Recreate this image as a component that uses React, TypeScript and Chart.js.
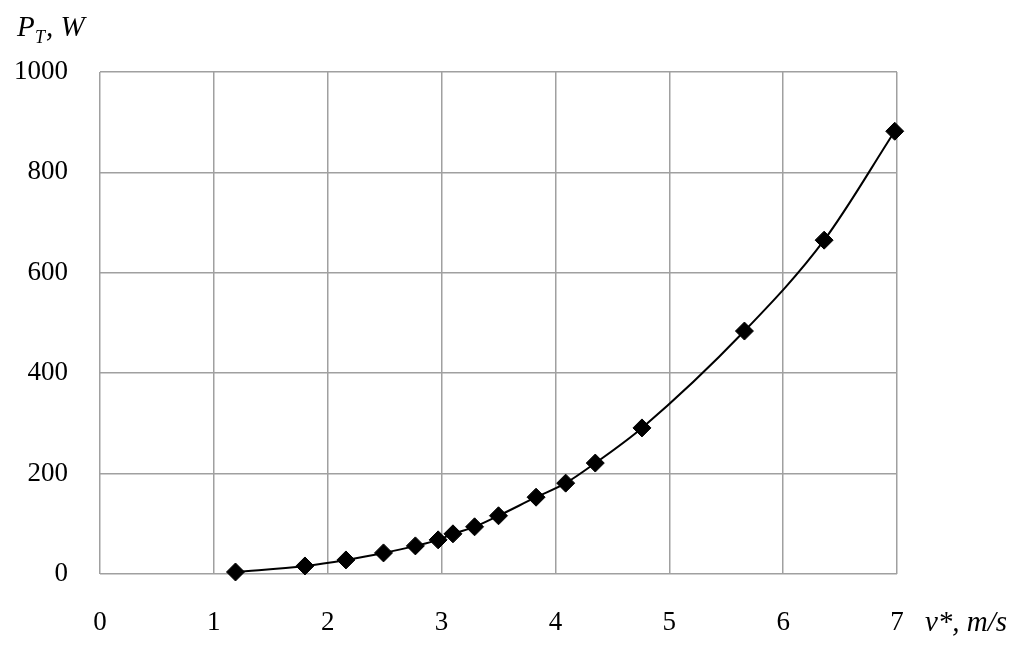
import React, { useEffect, useRef } from "react";
import { Chart, registerables } from "chart.js";

Chart.register(...registerables);

const speed: number[] = [1.19, 1.8, 2.16, 2.49, 2.77, 2.97, 3.1, 3.29, 3.5, 3.83, 4.09, 4.35, 4.76, 5.66, 6.36, 6.98];
const power: number[] = [4, 16, 28, 42, 56, 68, 80, 94, 116, 153, 181, 221, 291, 484, 665, 882];
const xTicks: number[] = [0, 1, 2, 3, 4, 5, 6, 7];
const yTicks: number[] = [0, 200, 400, 600, 800, 1000];

const FONT = "'Liberation Serif', 'DejaVu Serif', serif";

const titlesPlugin = {
  id: "axisTitles",
  afterDraw(chart: any) {
    const ctx = chart.ctx;
    ctx.save();
    ctx.fillStyle = "#000";
    ctx.textBaseline = "alphabetic";
    ctx.textAlign = "left";
    // Y title: P_T, W
    ctx.font = `italic 29px ${FONT}`;
    ctx.fillText("P", 17, 36);
    ctx.font = `italic 18px ${FONT}`;
    ctx.fillText("T", 35, 43);
    ctx.font = `italic 29px ${FONT}`;
    ctx.fillText(", W", 46, 36);
    // X title
    ctx.fillText("v*, m/s", 925, 631);
    ctx.restore();
  },
};

export default function App() {
  const ref = useRef<HTMLCanvasElement | null>(null);
  useEffect(() => {
    document.body.style.margin = "0";
    const canvas = ref.current!;
    const chart = new Chart(canvas, {
      type: "line",
      data: {
        datasets: [
          {
            data: speed.map((v, i) => ({ x: v, y: power[i] })),
            borderColor: "#000",
            backgroundColor: "#000",
            borderWidth: 2,
            pointStyle: "rectRot",
            pointRadius: 9,
            pointBorderWidth: 1,
            pointBackgroundColor: "#000",
            pointBorderColor: "#000",
            cubicInterpolationMode: "monotone",
            fill: false,
            clip: false,
          },
        ],
      },
      options: {
        responsive: false,
        animation: false,
        events: [],
        layout: { padding: { left: 0, right: 127, top: 72, bottom: 0 } },
        plugins: { legend: { display: false }, tooltip: { enabled: false } },
        scales: {
          x: {
            type: "linear",
            min: 0,
            max: 7,
            afterBuildTicks: (s: any) => {
              s.ticks = xTicks.map((v) => ({ value: v }));
            },
            afterFit: (s: any) => {
              s.height = 76;
            },
            grid: { color: "#a0a0a0", lineWidth: 1.5, drawTicks: false },
            border: { display: false },
            ticks: {
              padding: 33,
              color: "#000",
              font: { family: FONT, size: 27 },
              maxRotation: 0,
              callback: (v: any) => String(v),
            },
          },
          y: {
            type: "linear",
            min: 0,
            max: 1000,
            afterBuildTicks: (s: any) => {
              s.ticks = yTicks.map((v) => ({ value: v }));
            },
            afterFit: (s: any) => {
              s.width = 100;
            },
            grid: { color: "#a0a0a0", lineWidth: 1.5, drawTicks: false },
            border: { display: false },
            ticks: {
              padding: 32,
              color: "#000",
              font: { family: FONT, size: 27 },
              callback: (v: any) => String(v),
            },
          },
        },
      },
      plugins: [titlesPlugin],
    } as any);
    return () => chart.destroy();
  }, []);
  return <canvas ref={ref} width={1024} height={650} style={{ display: "block" }} />;
}
